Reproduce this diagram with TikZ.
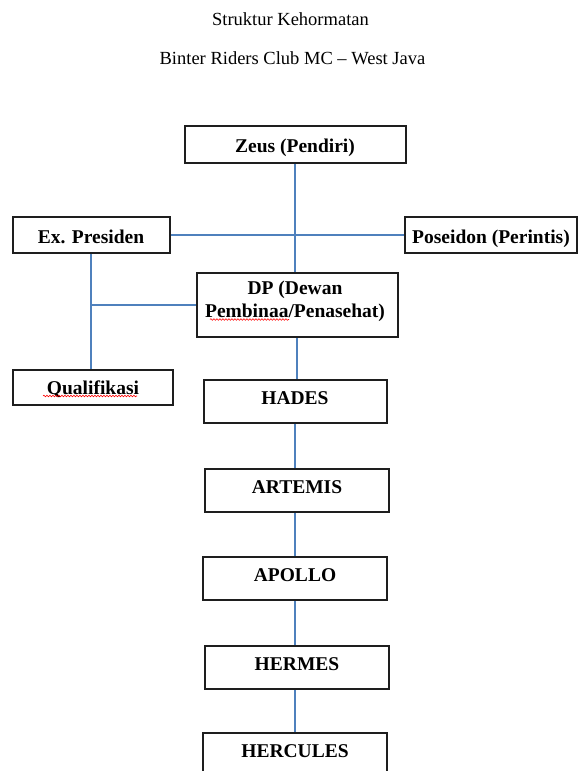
\documentclass[tikz,border=0pt]{standalone}
\usepackage{fontspec}
\setmainfont{Liberation Serif}
\usetikzlibrary{calc,decorations.pathmorphing}
\definecolor{linkblue}{RGB}{79,129,189}
\definecolor{boxline}{RGB}{30,30,30}
\begin{document}
\begin{tikzpicture}[x=1pt,y=-1pt,
  box/.style={draw=boxline,line width=2pt,inner sep=0pt,font=\fontsize{19.5}{23}\selectfont\bfseries},
  topbox/.style={box,minimum width=184pt,minimum height=43pt,text height=14pt,text depth=9pt},
  boxtext/.style={inner sep=0pt,font=\fontsize{19.5}{23}\selectfont\bfseries,align=center},
  link/.style={draw=linkblue,line width=1.4pt},
  title/.style={font=\fontsize{18.5}{22}\selectfont,anchor=base,inner sep=0pt},
  squiggle/.style={draw=red,line width=0.6pt,decorate,decoration={snake,amplitude=0.8pt,segment length=3pt}}]
\clip (0,0) rectangle (578,771);
\fill[white] (0,0) rectangle (578,771);
% titles
\node[title] (t1) at (290.5,25) {Struktur Kehormatan};
\node[title] (t2) at (292.5,64) {Binter Riders Club MC – West Java};
% boxes
\node[box,minimum width=221pt,minimum height=37pt,text height=16pt,text depth=0pt] (zeus) at (295,144.5) {Zeus (Pendiri)};
\node[box,minimum width=157pt,minimum height=36pt,text height=17pt,text depth=0pt] (ex) at (91,235) {Ex. Presiden};
\node[box,minimum width=172pt,minimum height=36pt,text height=17pt,text depth=0pt] (pos) at (491,235) {Poseidon (Perintis)};
\node[box,minimum width=201pt,minimum height=64pt] (dp) at (297,305) {};
\node[boxtext] (dptext) at (295,301) {DP (Dewan\\Pembinaa/Penasehat)};
\node[box,minimum width=160pt,minimum height=35pt,text height=13pt,text depth=0pt] (qual) at (93,387.5) {Qualifikasi};
\node[topbox,minimum width=183pt] (hades) at (295,401.5) {HADES};
\node[topbox] (artemis) at (297,490.5) {ARTEMIS};
\node[topbox] (apollo) at (295,578.5) {APOLLO};
\node[topbox] (hermes) at (297,667.5) {HERMES};
\node[topbox] (hercules) at (295,754.5) {HERCULES};
% spelling marks
\draw[squiggle] (210,319.5) -- (289,319.5);
\draw[squiggle] (43,396) -- (137,396);
% connectors
\draw[link] (zeus.south) -- (zeus.south |- dp.north);
\draw[link] (ex.east) -- (pos.west);
\draw[link] (ex.south) -- (ex.south |- qual.north);
\draw[link] (dp.west) -- (dp.west -| ex.south);
\draw[link] (dp.south) -- (dp.south |- hades.north);
\draw[link] (hades.south) -- (hades.south |- artemis.north);
\draw[link] (apollo.north) -- (apollo.north |- artemis.south);
\draw[link] (apollo.south) -- (apollo.south |- hermes.north);
\draw[link] (hercules.north) -- (hercules.north |- hermes.south);
\end{tikzpicture}
\end{document}
